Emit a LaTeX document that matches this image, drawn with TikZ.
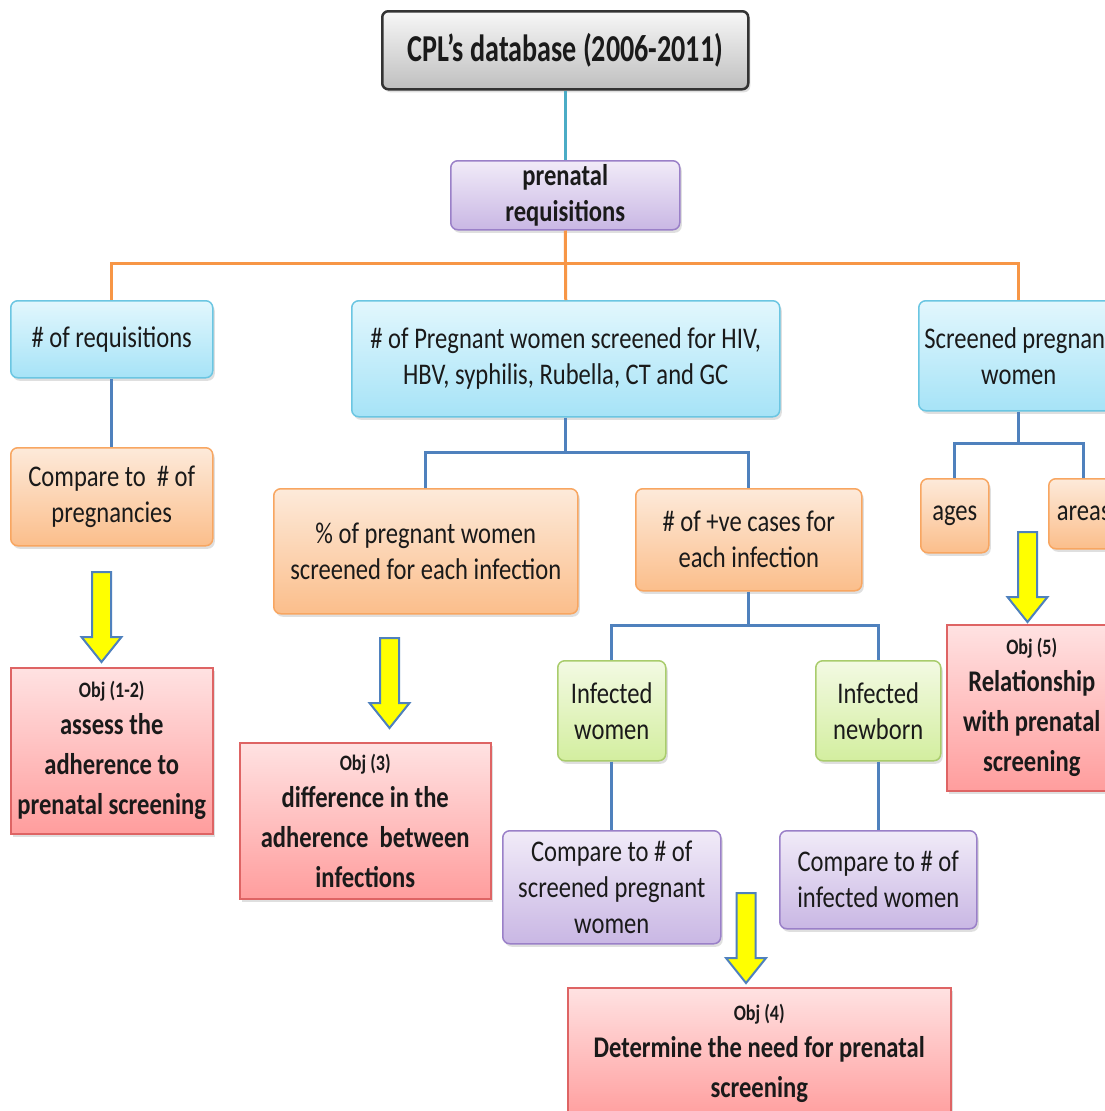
\documentclass[tikz,border=0pt]{standalone}
\usepackage{fontspec}
\setmainfont{Carlito}[FakeStretch=0.82]
\newfontfamily\titlefont{Carlito}[FakeStretch=0.74]
\usetikzlibrary{shadows,calc}
\definecolor{txt}{HTML}{1A1A1A}
\definecolor{cyanB}{HTML}{6BC6E2}
\definecolor{cyanT}{HTML}{E2F7FD}
\definecolor{cyanBot}{HTML}{A6E3F7}
\definecolor{oranB}{HTML}{F8A661}
\definecolor{oranT}{HTML}{FDEADA}
\definecolor{oranBot}{HTML}{FBBE8B}
\definecolor{purpB}{HTML}{9A80C8}
\definecolor{purpT}{HTML}{F1EBF8}
\definecolor{purpBot}{HTML}{C9B7E4}
\definecolor{grnB}{HTML}{A9CC6C}
\definecolor{grnT}{HTML}{F3FAE3}
\definecolor{grnBot}{HTML}{D3EE9F}
\definecolor{redB}{HTML}{DE6464}
\definecolor{redT}{HTML}{FFE2E2}
\definecolor{redBot}{HTML}{FF9D9D}
\definecolor{grayT}{HTML}{F7F7F7}
\definecolor{grayBot}{HTML}{BFBFBF}
\definecolor{tealL}{HTML}{4BACC6}
\definecolor{oranL}{HTML}{F79646}
\definecolor{blueL}{HTML}{4F81BD}
\definecolor{yel}{HTML}{FFFF00}
\tikzset{
  box/.style={draw, line width=1.5pt, rounded corners=7pt, align=center,
    inner sep=0pt, anchor=north west, text=txt,
    font=\fontsize{30}{36}\selectfont,
    drop shadow={opacity=0.25, shadow xshift=2pt, shadow yshift=-3pt}},
  cyanbox/.style={box, draw=cyanB, top color=cyanT, bottom color=cyanBot},
  oranbox/.style={box, draw=oranB, top color=oranT, bottom color=oranBot},
  purpbox/.style={box, draw=purpB, top color=purpT, bottom color=purpBot},
  grnbox/.style={box, draw=grnB, top color=grnT, bottom color=grnBot},
  objbox/.style={box, rounded corners=0pt, draw=redB, top color=redT, bottom color=redBot,
    font=\bfseries\fontsize{30}{40}\selectfont},
  titlebox/.style={box, line width=2.5pt, rounded corners=6pt, draw=black!80,
    top color=grayT, bottom color=grayBot, font=\titlefont\bfseries\fontsize{38}{40}\selectfont},
  tline/.style={tealL, line width=2.5pt},
  oline/.style={oranL, line width=3pt},
  bline/.style={blueL, line width=3pt},
  yarrow/.pic={\draw[fill=yel, draw=blueL, line width=2pt, line join=miter]
    (-9.5,90) -- (9.5,90) -- (9.5,25) -- (20,25) -- (0,0) -- (-20,25) -- (-9.5,25) -- cycle;}
}
\newcommand{\objlab}[1]{{\fontsize{22}{24}\selectfont #1}\\[-3pt]}
\begin{document}
\begin{tikzpicture}[x=1pt,y=1pt]
\useasboundingbox (0,0) rectangle (1105,-1111);
\clip (0,0) rectangle (1105,-1111);
\fill[white] (0,0) rectangle (1105,-1111);

% nodes
\node[titlebox, minimum width=366pt, minimum height=78pt] (title) at (381,-10) {CPL’s database (2006-2011)};
\node[purpbox, font=\bfseries\fontsize{30}{36}\selectfont, minimum width=229pt, minimum height=69pt] (pre) at (450,-160) {prenatal\\requisitions};

\node[cyanbox, minimum width=202pt, minimum height=77pt] (req) at (10,-300) {\# of requisitions};
\node[cyanbox, minimum width=428pt, minimum height=116pt] (mid) at (351,-300) {\# of Pregnant women screened for HIV,\\HBV, syphilis, Rubella, CT and GC};
\node[cyanbox, minimum width=200pt, minimum height=110pt] (scr) at (918,-300) {Screened pregnant\\women};

\node[oranbox, minimum width=202pt, minimum height=98pt] (cmpa) at (10,-447) {Compare to \ \# of\\pregnancies};
\node[oranbox, minimum width=304pt, minimum height=125pt] (pct) at (273,-488) {\% of pregnant women\\screened for each infection};
\node[oranbox, minimum width=226pt, minimum height=102pt] (pos) at (635,-488) {\# of +ve cases for\\each infection};
\node[oranbox, minimum width=68pt, minimum height=74pt] (ages) at (920,-478) {ages};
\node[oranbox, minimum width=70pt, minimum height=70pt] (areas) at (1048,-478) {areas};

\node[grnbox, minimum width=108pt, minimum height=100pt] (iw) at (557,-660) {Infected\\women};
\node[grnbox, minimum width=125pt, minimum height=100pt] (inb) at (815,-660) {Infected\\newborn};

\node[purpbox, minimum width=218pt, minimum height=113pt] (cmpb) at (502,-830) {Compare to \# of\\screened pregnant\\women};
\node[purpbox, minimum width=197pt, minimum height=98pt] (cmpc) at (779,-830) {Compare to \# of\\infected women};

\node[objbox, minimum width=202pt, minimum height=166pt] (objA) at (10,-667) {\objlab{Obj (1-2)}assess the\\adherence to\\prenatal screening};
\node[objbox, minimum width=251pt, minimum height=156pt] (objB) at (239,-742) {\objlab{Obj (3)}difference in the\\adherence \ between\\infections};
\node[objbox, minimum width=170pt, minimum height=166pt] (objE) at (946,-624) {\objlab{Obj (5)}Relationship\\with prenatal\\screening};
\node[objbox, minimum width=383pt, minimum height=132pt] (objD) at (567,-987) {\objlab{Obj (4)}Determine the need for prenatal\\screening};

% connectors
\draw[tline] (title.south) -- (pre.north);
\draw[oline] (pre.south) -- (mid.north);
\draw[oline] (req.north) -- ++(0,37) -| (scr.north);
\draw[bline] (req.south) -- (cmpa.north);
\draw[bline] (mid.south) -- ++(0,-36);
\draw[bline] (pct.north) -- ++(0,36) -| (pos.north);
\draw[bline] (pos.south) -- ++(0,-35);
\draw[bline] (iw.north) -- ++(0,35) -| (inb.north);
\draw[bline] (iw.south) -- (cmpb.north);
\draw[bline] (inb.south) -- (cmpc.north);
\draw[bline] (scr.south) -- ++(0,-33);
\draw[bline] (ages.north) -- ++(0,35) -| (areas.north);

% yellow arrows
\pic at (101.5,-662) {yarrow};
\pic at (389.5,-728) {yarrow};
\pic at (746,-983) {yarrow};
\pic at (1027.5,-622) {yarrow};
\end{tikzpicture}
\end{document}
